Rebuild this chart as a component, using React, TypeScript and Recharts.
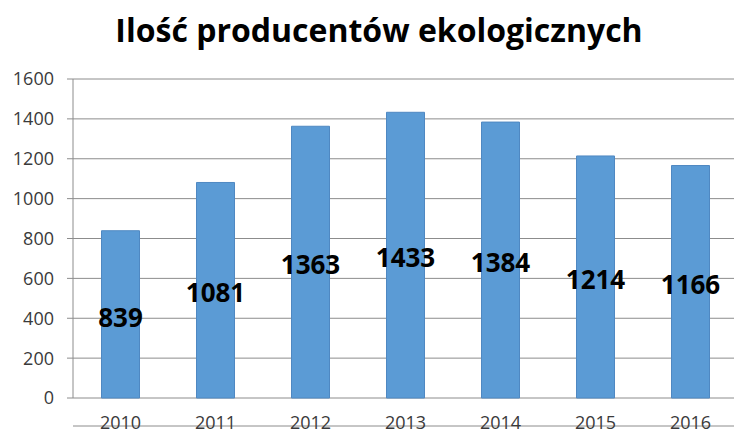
import { Bar, BarChart, CartesianGrid, LabelList, XAxis, YAxis } from "recharts";

const years = ["2010", "2011", "2012", "2013", "2014", "2015", "2016"];
const producers = [839, 1081, 1363, 1433, 1384, 1214, 1166];
const yTicks = [0, 200, 400, 600, 800, 1000, 1200, 1400, 1600];
const boundaryTicks = [0, 1, 2, 3, 4, 5, 6, 7];

const data = years.map((year, i) => ({ year, count: producers[i] }));

const FONT = "'Open Sans', 'Noto Sans', sans-serif";
const gray = "#8c8c8c";
const axisTick = { fill: "#3a3a3a", fontSize: 18, fontFamily: FONT };

export default function App() {
  return (
    <div
      style={{
        position: "fixed",
        left: 0,
        top: 0,
        width: 734,
        height: 434,
        overflow: "hidden",
        background: "#fff",
      }}
    >
      <div
        style={{
          position: "absolute",
          left: 0,
          top: 10,
          width: 758,
          textAlign: "center",
          fontFamily: FONT,
          fontWeight: 700,
          fontSize: 32,
          color: "#000",
          lineHeight: "40px",
        }}
      >
        Ilość producentów ekologicznych
      </div>
      <BarChart
        width={740}
        height={434}
        data={data}
        barCategoryGap="30%"
        margin={{ top: 79, right: 2, bottom: 0, left: 0 }}
      >
        <CartesianGrid vertical={false} stroke={gray} strokeWidth={1} />
        <XAxis
          xAxisId="ticks"
          type="number"
          domain={[0, 7]}
          ticks={boundaryTicks}
          tick={false}
          tickSize={7}
          height={8}
          stroke={gray}
          axisLine={{ stroke: gray }}
          tickLine={{ stroke: gray }}
          allowDataOverflow
        />
        <XAxis
          xAxisId="cat"
          dataKey="year"
          height={28}
          axisLine={false}
          tickLine={false}
          tickSize={0}
          tickMargin={18}
          tick={axisTick}
        />
        <YAxis
          domain={[0, 1600]}
          ticks={yTicks}
          width={73}
          tickSize={6}
          tickMargin={13}
          tick={axisTick}
          axisLine={{ stroke: gray }}
          tickLine={{ stroke: gray }}
        />
        <Bar
          xAxisId="cat"
          dataKey="count"
          fill="#5b9bd5"
          stroke="#4f88c2"
          strokeWidth={1}
          isAnimationActive={false}
        >
          <LabelList
            dataKey="count"
            position="center"
            fill="#000"
            fontSize={26}
            fontWeight={700}
            fontFamily={FONT}
            dy={3}
          />
        </Bar>
      </BarChart>
    </div>
  );
}
